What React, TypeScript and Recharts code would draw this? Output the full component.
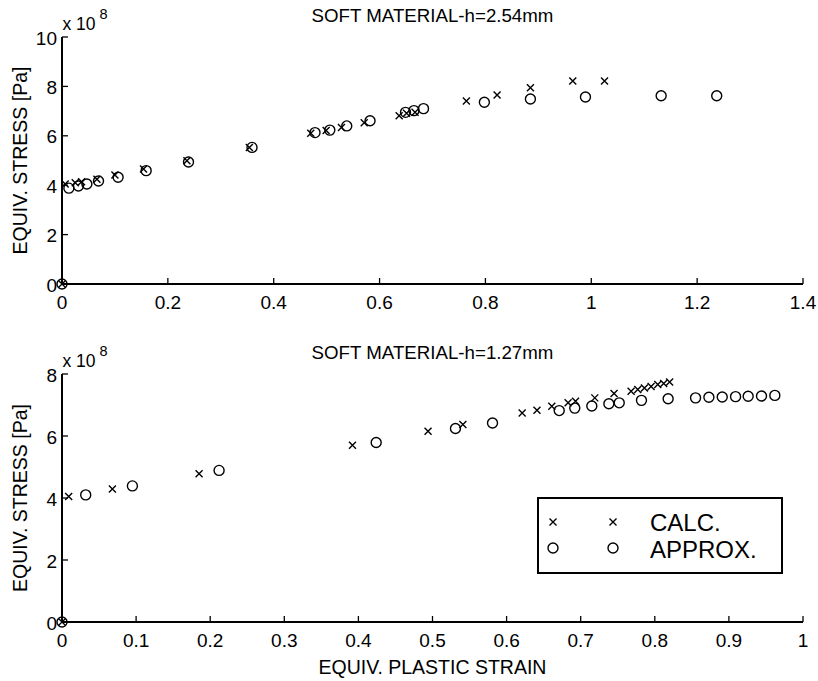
import React from 'react';
import { ScatterChart, Scatter, XAxis, YAxis } from 'recharts';

const FONT = '"Liberation Sans", Arial, Helvetica, sans-serif';

// stress values are in units of 1e8 Pa
const calcStrainThick = [0, 0.006, 0.025, 0.037, 0.066, 0.1, 0.154, 0.236, 0.354, 0.47, 0.499, 0.528, 0.571, 0.637, 0.651, 0.667, 0.764, 0.822, 0.885, 0.965, 1.025];
const calcStressThick = [0, 4.05, 4.1, 4.14, 4.24, 4.41, 4.66, 4.99, 5.53, 6.1, 6.21, 6.34, 6.53, 6.81, 6.91, 6.95, 7.41, 7.65, 7.95, 8.22, 8.22];
const approxStrainThick = [0, 0.013, 0.031, 0.047, 0.069, 0.106, 0.159, 0.239, 0.359, 0.478, 0.506, 0.538, 0.582, 0.649, 0.665, 0.683, 0.798, 0.885, 0.989, 1.132, 1.237];
const approxStressThick = [0, 3.88, 3.97, 4.05, 4.17, 4.32, 4.59, 4.94, 5.53, 6.13, 6.23, 6.4, 6.61, 6.95, 7.02, 7.1, 7.36, 7.49, 7.57, 7.62, 7.62];

const calcStrainThin = [0, 0.009, 0.068, 0.185, 0.392, 0.494, 0.541, 0.621, 0.641, 0.661, 0.683, 0.693, 0.719, 0.745, 0.768, 0.777, 0.786, 0.795, 0.804, 0.812, 0.82];
const calcStressThin = [0, 4.05, 4.29, 4.78, 5.7, 6.15, 6.37, 6.74, 6.83, 6.96, 7.07, 7.12, 7.23, 7.37, 7.44, 7.5, 7.55, 7.6, 7.66, 7.69, 7.74];
const approxStrainThin = [0, 0.032, 0.095, 0.212, 0.424, 0.531, 0.581, 0.671, 0.692, 0.715, 0.738, 0.752, 0.782, 0.818, 0.855, 0.873, 0.891, 0.909, 0.926, 0.944, 0.962];
const approxStressThin = [0, 4.1, 4.39, 4.89, 5.79, 6.24, 6.42, 6.82, 6.9, 6.97, 7.04, 7.07, 7.15, 7.2, 7.23, 7.25, 7.26, 7.27, 7.28, 7.29, 7.31];

const xTicksThick = [0, 0.2, 0.4, 0.6, 0.8, 1, 1.2, 1.4];
const yTicksThick = [0, 2, 4, 6, 8, 10];
const xTicksThin = [0, 0.1, 0.2, 0.3, 0.4, 0.5, 0.6, 0.7, 0.8, 0.9, 1];
const yTicksThin = [0, 2, 4, 6, 8];

const zip = (xs: number[], ys: number[]) => xs.map((x, i) => ({ x, y: ys[i] }));

const fmt = (v: number) => String(Number(v.toFixed(2)));

function XMark(props: any) {
  const { cx, cy } = props;
  if (cx == null || cy == null) return null;
  const s = 3.5;
  return (
    <path
      d={`M${cx - s},${cy - s}L${cx + s},${cy + s}M${cx - s},${cy + s}L${cx + s},${cy - s}`}
      stroke="#000"
      strokeWidth={1.4}
      fill="none"
    />
  );
}

function OMark(props: any) {
  const { cx, cy } = props;
  if (cx == null || cy == null) return null;
  return <circle cx={cx} cy={cy} r={5} stroke="#000" strokeWidth={1.4} fill="none" />;
}

function XTick(props: any) {
  const { x, y, payload } = props;
  return (
    <text x={x} y={y + 15.5} textAnchor="middle" fontSize={19} fontFamily={FONT} fill="#000">
      {fmt(payload.value)}
    </text>
  );
}

function YTick(props: any) {
  const { x, y, payload } = props;
  return (
    <text x={x} y={y + 1} textAnchor="end" dominantBaseline="central" fontSize={19} fontFamily={FONT} fill="#000">
      {fmt(payload.value)}
    </text>
  );
}

function StressLabel(props: any) {
  const vb = props.viewBox;
  const cx = vb.x - 2;
  const cy = vb.y + vb.height / 2;
  return (
    <text
      x={cx}
      y={cy}
      transform={`rotate(-90 ${cx} ${cy})`}
      textAnchor="middle"
      dominantBaseline="central"
      fontSize={19.5}
      fontFamily={FONT}
      fill="#000"
    >
      EQUIV. STRESS [Pa]
    </text>
  );
}

function StrainLabel(props: any) {
  const vb = props.viewBox;
  return (
    <text
      x={vb.x + vb.width / 2}
      y={vb.y + vb.height - 1}
      textAnchor="middle"
      fontSize={19.5}
      fontFamily={FONT}
      fill="#000"
    >
      EQUIV. PLASTIC STRAIN
    </text>
  );
}

const axisLine = { stroke: '#000', strokeWidth: 2 };
const tickLine = { stroke: '#000', strokeWidth: 1.3 };

interface PanelProps {
  top: number;
  height: number;
  title: string;
  calc: { x: number; y: number }[];
  approx: { x: number; y: number }[];
  xTicks: number[];
  yTicks: number[];
  marginTop: number;
  xAxisHeight: number;
  marginBottom: number;
  showXLabel?: boolean;
  children?: React.ReactNode;
}

function Panel(p: PanelProps) {
  const xMax = p.xTicks[p.xTicks.length - 1];
  const yMax = p.yTicks[p.yTicks.length - 1];
  return (
    <div style={{ position: 'absolute', left: 0, top: p.top, width: 818, height: p.height }}>
      <ScatterChart
        width={818}
        height={p.height}
        margin={{ top: p.marginTop, right: 15, bottom: p.marginBottom, left: 22 }}
      >
        <XAxis
          type="number"
          dataKey="x"
          domain={[0, xMax]}
          ticks={p.xTicks}
          interval={0}
          height={p.xAxisHeight}
          tickSize={-6}
          tickMargin={15}
          axisLine={axisLine}
          tickLine={tickLine}
          tick={<XTick />}
          label={p.showXLabel ? ({ content: <StrainLabel /> } as any) : undefined}
        />
        <XAxis
          xAxisId="top"
          orientation="top"
          mirror
          type="number"
          domain={[0, xMax]}
          ticks={p.xTicks}
          interval={0}
          height={0}
          tickSize={6}
          axisLine={axisLine}
          tickLine={tickLine}
          tick={false}
        />
        <YAxis
          type="number"
          dataKey="y"
          domain={[0, yMax]}
          ticks={p.yTicks}
          interval={0}
          width={40}
          tickSize={-6}
          tickMargin={11}
          axisLine={axisLine}
          tickLine={tickLine}
          tick={<YTick />}
          label={{ content: <StressLabel /> } as any}
        />
        <YAxis
          yAxisId="right"
          orientation="right"
          mirror
          type="number"
          domain={[0, yMax]}
          ticks={p.yTicks}
          interval={0}
          width={0}
          tickSize={6}
          axisLine={axisLine}
          tickLine={tickLine}
          tick={false}
        />
        <Scatter name="CALC." data={p.calc} shape={<XMark />} isAnimationActive={false} />
        <Scatter name="APPROX." data={p.approx} shape={<OMark />} isAnimationActive={false} />
      </ScatterChart>
      <svg
        width={818}
        height={p.marginTop}
        style={{ position: 'absolute', left: 0, top: 0, pointerEvents: 'none' }}
      >
        <text
          x={432.5}
          y={p.marginTop - 15.3}
          textAnchor="middle"
          fontSize={18.7}
          fontFamily={FONT}
          fill="#000"
        >
          {p.title}
        </text>
        <text x={62.5} y={p.marginTop - 7} fontSize={17.5} fontFamily={FONT} fill="#000">
          x 10
        </text>
        <text x={99.5} y={p.marginTop - 17.7} fontSize={14.5} fontFamily={FONT} fill="#000">
          8
        </text>
      </svg>
      {p.children}
    </div>
  );
}

function LegendBox() {
  return (
    <svg
      width={246}
      height={77}
      style={{ position: 'absolute', left: 537, top: 167, background: '#fff' }}
    >
      <rect x={1} y={1} width={244} height={75} fill="#fff" stroke="#000" strokeWidth={2} />
      <XMark cx={16} cy={25} />
      <XMark cx={76} cy={25} />
      <OMark cx={16} cy={51} />
      <OMark cx={76} cy={51} />
      <text x={113} y={25} dominantBaseline="central" fontSize={24} fontFamily={FONT} fill="#000">
        CALC.
      </text>
      <text x={113} y={52} dominantBaseline="central" fontSize={24} fontFamily={FONT} fill="#000">
        APPROX.
      </text>
    </svg>
  );
}

export default function App() {
  return (
    <div style={{ position: 'absolute', left: 0, top: 0, width: 818, height: 681, background: '#fff' }}>
      <Panel
        top={0}
        height={330}
        title="SOFT MATERIAL-h=2.54mm"
        calc={zip(calcStrainThick, calcStressThick)}
        approx={zip(approxStrainThick, approxStressThick)}
        xTicks={xTicksThick}
        yTicks={yTicksThick}
        marginTop={37}
        xAxisHeight={30}
        marginBottom={16}
      />
      <Panel
        top={330}
        height={351}
        title="SOFT MATERIAL-h=1.27mm"
        calc={zip(calcStrainThin, calcStressThin)}
        approx={zip(approxStrainThin, approxStressThin)}
        xTicks={xTicksThin}
        yTicks={yTicksThin}
        marginTop={44}
        xAxisHeight={53}
        marginBottom={6}
        showXLabel
      >
        <LegendBox />
      </Panel>
    </div>
  );
}
